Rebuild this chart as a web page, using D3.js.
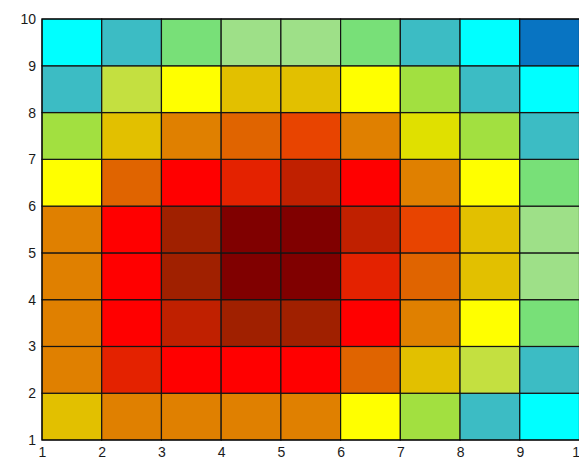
<!DOCTYPE html>
<html>
<head>
<meta charset="utf-8">
<script src="https://cdn.jsdelivr.net/npm/d3@7"></script>
<style>
  html, body { margin: 0; padding: 0; background: #fff; overflow: hidden; }
  svg { display: block; }
  .tick text { font-family: "Liberation Sans", Arial, sans-serif; font-size: 14px; fill: #1a1a1a; }
</style>
</head>
<body>
<svg id="chart" width="579" height="461"></svg>
<script>
// Indexed colormap, lowest level first
const colormap = [
  "#0874c2", "#00ffff", "#3cbcc4", "#78e078", "#9ee088", "#a2e040",
  "#c4e040", "#ffff00", "#e0e000", "#e2c000", "#e08000", "#e06400",
  "#e84400", "#e42200", "#ff0000", "#c02000", "#a02000", "#800000"
];

// Tick labels on both axes
const xTicks = [1, 2, 3, 4, 5, 6, 7, 8, 9, 10];
const yTicks = [1, 2, 3, 4, 5, 6, 7, 8, 9, 10];

// Cell levels (colormap index), one array per row from y = 1 upward, x = 1..9
const row1 = [9, 10, 10, 10, 10, 7, 5, 2, 1];
const row2 = [10, 13, 14, 14, 14, 11, 9, 6, 2];
const row3 = [10, 14, 15, 16, 16, 14, 10, 7, 3];
const row4 = [10, 14, 16, 17, 17, 13, 11, 9, 4];
const row5 = [10, 14, 16, 17, 17, 15, 12, 9, 4];
const row6 = [7, 11, 14, 13, 15, 14, 10, 7, 3];
const row7 = [5, 9, 10, 11, 12, 10, 8, 5, 2];
const row8 = [2, 6, 7, 9, 9, 7, 5, 2, 1];
const row9 = [1, 2, 3, 4, 4, 3, 2, 1, 0];
const rows = [row1, row2, row3, row4, row5, row6, row7, row8, row9];

const svg = d3.select("#chart");
const plotLeft = 42, plotRight = 579.5, plotTop = 19, plotBottom = 440;

const x = d3.scaleLinear().domain([1, 10]).range([plotLeft, plotRight]);
const y = d3.scaleLinear().domain([1, 10]).range([plotBottom, plotTop]);
const color = d3.scaleQuantize().domain([-0.5, colormap.length - 0.5]).range(colormap);

const cells = [];
rows.forEach((r, j) => r.forEach((v, i) => cells.push({ x0: i + 1, y0: j + 1, v })));

svg.append("g")
  .selectAll("rect")
  .data(cells)
  .join("rect")
  .attr("x", d => x(d.x0))
  .attr("y", d => y(d.y0 + 1))
  .attr("width", d => x(d.x0 + 1) - x(d.x0))
  .attr("height", d => y(d.y0) - y(d.y0 + 1))
  .attr("fill", d => color(d.v))
  .attr("stroke", "#141414")
  .attr("stroke-width", 1.2);

// Axes box
svg.append("rect")
  .attr("x", plotLeft).attr("y", plotTop)
  .attr("width", plotRight - plotLeft).attr("height", plotBottom - plotTop)
  .attr("fill", "none").attr("stroke", "#000").attr("stroke-width", 1);

const xAxis = svg.append("g")
  .attr("transform", `translate(0,${plotBottom})`)
  .call(d3.axisBottom(x).tickValues(xTicks).tickSize(0).tickPadding(7).tickFormat(d3.format("d")));
xAxis.select(".domain").remove();

const yAxis = svg.append("g")
  .attr("transform", `translate(${plotLeft},0)`)
  .call(d3.axisLeft(y).tickValues(yTicks).tickSize(0).tickPadding(6).tickFormat(d3.format("d")));
yAxis.select(".domain").remove();
</script>
</body>
</html>
